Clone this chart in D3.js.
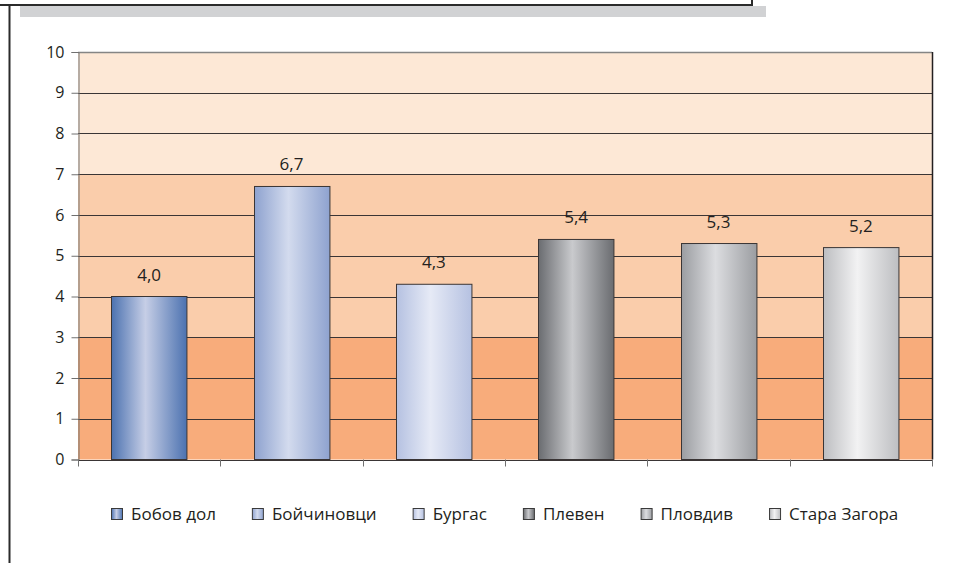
<!DOCTYPE html>
<html>
<head>
<meta charset="utf-8">
<script src="https://cdn.jsdelivr.net/npm/d3@7"></script>
<style>
  body { margin: 0; background: #fff; }
  svg text { font-family: "Open Sans", "Noto Sans", sans-serif; fill: #231f20; }
</style>
</head>
<body>
<div id="chart"></div>
<script>
// data
const categories = ["Бобов дол", "Бойчиновци", "Бургас", "Плевен", "Пловдив", "Стара Загора"];
const values = [4.0, 6.7, 4.3, 5.4, 5.3, 5.2];
const yTicks = [0, 1, 2, 3, 4, 5, 6, 7, 8, 9, 10];
const bandBreaks = [0, 3, 7, 10];

// styling
const bandColors = ["#f8ac7b", "#facdab", "#fde8d6"];
const barEdges  = ["#4c72b0", "#8ea2cf", "#b5c1e1", "#6a6c70", "#9b9da1", "#bdbec1"];
const barCenter = ["#c6cee6", "#d3dbee", "#e6eaf6", "#c9cacd", "#dcdde0", "#f2f2f3"];

const W = 959, H = 563;
const m = { left: 78, right: 27, top: 52, bottom: 103.5 };

const svg = d3.select("#chart").append("svg")
  .attr("width", W).attr("height", H);

// frame pieces of the page around the chart
svg.append("rect").attr("x", 20).attr("y", 6).attr("width", 746).attr("height", 11).attr("fill", "#d1d2d4");
svg.append("path").attr("d", "M0,5H752V0").attr("fill", "none").attr("stroke", "#2b2b2b").attr("stroke-width", 2);
svg.append("line").attr("x1", 9.5).attr("x2", 9.5).attr("y1", 4).attr("y2", H)
  .attr("stroke", "#2b2b2b").attr("stroke-width", 2);

const x = d3.scaleBand().domain(categories).range([m.left, W - m.right]).paddingInner(0.47).paddingOuter(0.235);
const xb = d3.scaleBand().domain(categories).range([m.left, W - m.right]);
const y = d3.scaleLinear().domain([0, 10]).range([H - m.bottom, m.top]);

// gradients
const defs = svg.append("defs");
categories.forEach((c, i) => {
  const g = defs.append("linearGradient").attr("id", "g" + i).attr("x1", 0).attr("x2", 1).attr("y1", 0).attr("y2", 0);
  g.append("stop").attr("offset", "0%").attr("stop-color", barEdges[i]);
  g.append("stop").attr("offset", "45%").attr("stop-color", barCenter[i]);
  g.append("stop").attr("offset", "100%").attr("stop-color", barEdges[i]);
});

// background bands
svg.append("g").selectAll("rect").data(d3.pairs(bandBreaks)).join("rect")
  .attr("x", m.left).attr("width", W - m.right - m.left)
  .attr("y", d => y(d[1])).attr("height", d => y(d[0]) - y(d[1]))
  .attr("fill", (d, i) => bandColors[i]);

// gridlines
svg.append("g").selectAll("line").data(yTicks.filter(t => t > 0 && t < 10)).join("line")
  .attr("x1", m.left).attr("x2", W - m.right)
  .attr("y1", d => Math.round(y(d)) + 0.5).attr("y2", d => Math.round(y(d)) + 0.5)
  .attr("stroke", "#3a3535").attr("stroke-width", 1);
svg.append("line").attr("x1", m.left).attr("x2", W - m.right)
  .attr("y1", Math.round(y(10)) + 0.5).attr("y2", Math.round(y(10)) + 0.5)
  .attr("stroke", "#858585").attr("stroke-width", 1.5);
svg.append("line").attr("x1", W - m.right + 0.5).attr("x2", W - m.right + 0.5)
  .attr("y1", y(10)).attr("y2", y(0))
  .attr("stroke", "#231f20").attr("stroke-width", 1.5);

// y axis
const yAxis = svg.append("g").attr("transform", `translate(${m.left + 0.5},0)`)
  .call(d3.axisLeft(y).tickValues(yTicks).tickSize(7).tickPadding(7).tickFormat(d3.format("d")));
yAxis.select(".domain").attr("stroke", "#707070");
yAxis.selectAll(".tick line").attr("stroke", "#707070");
yAxis.selectAll("text").style("font-size", "16px").attr("fill", "#231f20");

// x axis: ticks at category boundaries
svg.append("line").attr("x1", m.left).attr("x2", W - m.right)
  .attr("y1", Math.round(y(0)) + 0.5).attr("y2", Math.round(y(0)) + 0.5)
  .attr("stroke", "#3a3535");
const bounds = categories.map(c => xb(c)).concat([W - m.right]);
svg.append("g").selectAll("line").data(bounds).join("line")
  .attr("x1", d => Math.round(d) + 0.5).attr("x2", d => Math.round(d) + 0.5)
  .attr("y1", y(0)).attr("y2", y(0) + 7)
  .attr("stroke", "#707070");

// bars
svg.append("g").selectAll("rect").data(values).join("rect")
  .attr("x", (d, i) => Math.round(x(categories[i])) + 0.5)
  .attr("width", x.bandwidth())
  .attr("y", d => y(d))
  .attr("height", d => y(0) - y(d))
  .attr("fill", (d, i) => `url(#g${i})`)
  .attr("stroke", "#3a3535").attr("stroke-width", 1);

// value labels
svg.append("g").selectAll("text").data(values).join("text")
  .attr("x", (d, i) => x(categories[i]) + x.bandwidth() / 2)
  .attr("y", d => y(d) - 16)
  .attr("text-anchor", "middle")
  .style("font-size", "17px")
  .text(d => d3.format(".1f")(d).replace(".", ","));

// legend, centred under the plot
const legend = svg.append("g");
const items = legend.selectAll("g").data(categories).join("g");
items.append("rect").attr("x", 0.5).attr("width", 11).attr("height", 11).attr("y", -5.5)
  .attr("fill", (d, i) => `url(#g${i})`).attr("stroke", "#3a3a3a").attr("stroke-width", 1);
items.append("text").attr("x", 20).attr("y", 6).style("font-size", "17px").text(d => d);
let cx = 0;
items.each(function () {
  d3.select(this).attr("transform", `translate(${cx},0)`);
  cx += 20 + this.querySelector("text").getComputedTextLength() + 36;
});
const total = cx - 36;
legend.attr("transform", `translate(${Math.round((m.left + W - m.right) / 2 - total / 2)},514)`);
</script>
</body>
</html>
